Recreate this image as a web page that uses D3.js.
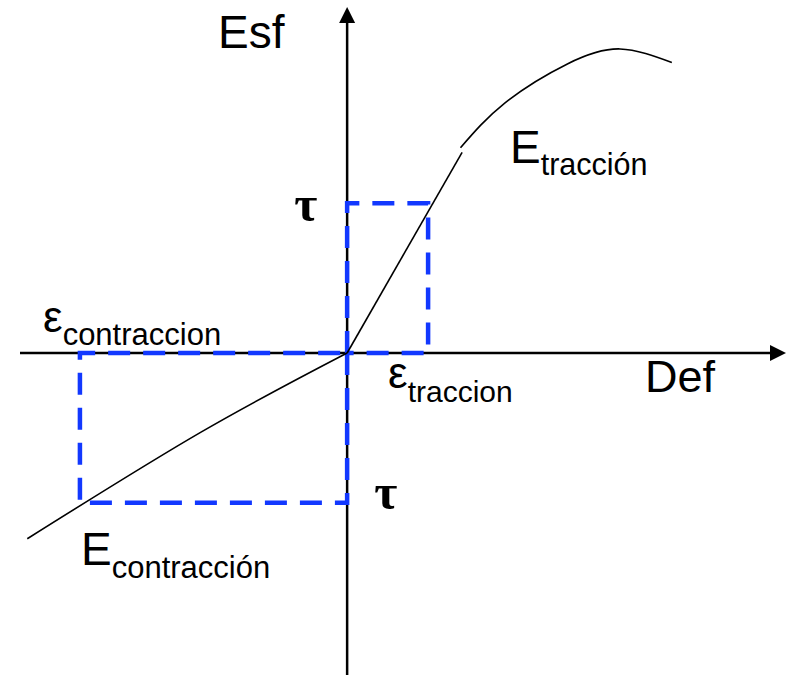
<!DOCTYPE html>
<html>
<head>
<meta charset="utf-8">
<script src="https://cdn.jsdelivr.net/npm/d3@7"></script>
<style>
  body { margin: 0; background: #fff; }
  svg { display: block; }
  .lbl { font-family: "Liberation Sans", Arial, sans-serif; fill: #000; }
  .tau { font-family: "Liberation Serif", "Times New Roman", serif; font-weight: bold; fill: #000; }
</style>
</head>
<body>
<div id="chart"></div>
<script>
// strain (Def) and stress (Esf) in arbitrary units
const xDomain = [-4.04, 5.42];
const yDomain = [-2.15, 2.31];

// yield points of the two boxes
const tau = 1;
const epsTraccion = 1;
const epsContraccion = -3.3;

// compression branch (left-lower)
const compBranch = [[-3.95, -1.24], [-1.81, -0.53], [0, 0]];
// tension branch, straight part
const tensLinear = [[0, 0], [1.42, 1.34]];
// tension branch, curved part after the small kink
const tensCurve = [[1.40, 1.37], [1.95, 1.67], [2.72, 1.93], [3.37, 2.03], [4.01, 1.94]];

const W = 789, H = 676;
const blue = "#1238ff";

const svg = d3.select("#chart").append("svg")
  .attr("width", W).attr("height", H);

const x = d3.scaleLinear().domain(xDomain).range([20, 786]);
const y = d3.scaleLinear().domain(yDomain).range([675, 7]);

const x0 = x(0), y0 = y(0);

// axes
svg.append("line")
  .attr("x1", x(xDomain[0])).attr("x2", x(xDomain[1]) - 12)
  .attr("y1", y0).attr("y2", y0)
  .attr("stroke", "#000").attr("stroke-width", 2.5);
svg.append("path")
  .attr("d", `M${x(xDomain[1])},${y0} L${x(xDomain[1]) - 16},${y0 - 8} L${x(xDomain[1]) - 16},${y0 + 8} Z`)
  .attr("fill", "#000");

svg.append("line")
  .attr("x1", x0).attr("x2", x0)
  .attr("y1", y(yDomain[0])).attr("y2", y(yDomain[1]) + 12)
  .attr("stroke", "#000").attr("stroke-width", 2.5);
svg.append("path")
  .attr("d", `M${x0},${y(yDomain[1])} L${x0 - 8},${y(yDomain[1]) + 16} L${x0 + 8},${y(yDomain[1]) + 16} Z`)
  .attr("fill", "#000");

// dashed boxes
const box = (ex, t) => `M${x(0)},${y(0)} L${x(0)},${y(t)} L${x(ex)},${y(t)} L${x(ex)},${y(0)} Z`;
svg.append("path").attr("d", box(epsTraccion, tau))
  .attr("fill", "none").attr("stroke", blue).attr("stroke-width", 4.5)
  .attr("stroke-dasharray", "22,13");
svg.append("path").attr("d", box(epsContraccion, -tau))
  .attr("fill", "none").attr("stroke", blue).attr("stroke-width", 4.5)
  .attr("stroke-dasharray", "22,13");

// curves
const line = d3.line().x(d => x(d[0])).y(d => y(d[1]));
svg.append("path").datum(compBranch)
  .attr("d", line.curve(d3.curveNatural)).attr("fill", "none")
  .attr("stroke", "#000").attr("stroke-width", 1.6);
svg.append("path").datum(tensLinear)
  .attr("d", line.curve(d3.curveLinear)).attr("fill", "none")
  .attr("stroke", "#000").attr("stroke-width", 1.6);
svg.append("path").datum(tensCurve)
  .attr("d", line.curve(d3.curveNatural)).attr("fill", "none")
  .attr("stroke", "#000").attr("stroke-width", 1.6);

// labels
svg.append("text").attr("class", "lbl").attr("x", 218).attr("y", 48)
  .attr("font-size", 46).text("Esf");
svg.append("text").attr("class", "lbl").attr("x", 645).attr("y", 392)
  .attr("font-size", 45).text("Def");

svg.append("text").attr("class", "tau").attr("x", x0 - 53).attr("y", y(tau) + 18)
  .attr("font-size", 50).text("τ");
svg.append("text").attr("class", "tau").attr("x", x0 + 27).attr("y", y(-tau) + 6)
  .attr("font-size", 50).text("τ");

function sub(xp, yp, main, s, mainSize, subSize, dy) {
  const t = svg.append("text").attr("class", "lbl").attr("x", xp).attr("y", yp);
  t.append("tspan").attr("font-size", mainSize).text(main);
  t.append("tspan").attr("font-size", subSize).attr("dy", dy).text(s);
}
sub(43, 332, "ε", "contraccion", 44, 31, 13);
sub(388, 388, "ε", "traccion", 44, 30, 14);
sub(510, 163, "E", "tracción", 46, 30.5, 12);
sub(81, 565, "E", "contracción", 46, 31, 13);
</script>
</body>
</html>
